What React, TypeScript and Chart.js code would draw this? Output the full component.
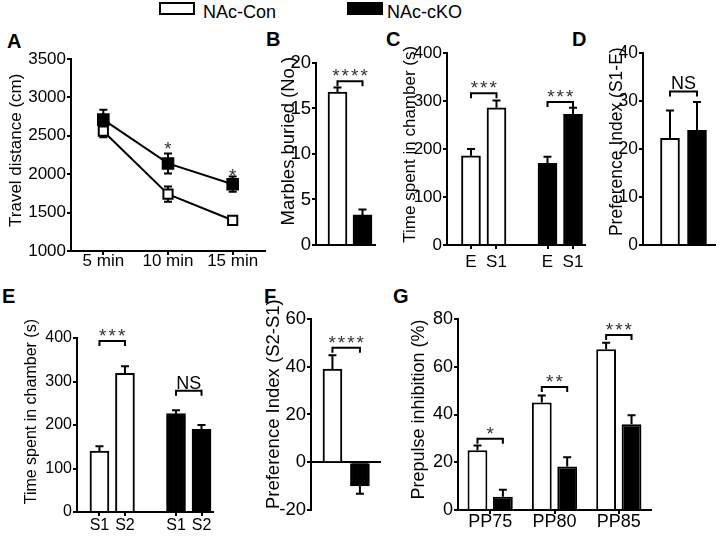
import React, { useEffect, useRef } from 'react';
import { Chart, registerables } from 'chart.js';

Chart.register(...registerables);

const FONT = "'Liberation Sans', Arial, Helvetica, sans-serif";
const BLACK = '#000000';
const WHITE = '#ffffff';
const STAR = '#333333';

// ---------- Data ----------
const groupNames = ['NAc-Con', 'NAc-cKO'];

// A: travel distance
const timeLabels = ['5 min', '10 min', '15 min'];
const travelCon = [2560, 1740, 1400];
const travelConErr = [80, 100, 50];
const travelKO = [2710, 2140, 1870];
const travelKOErr = [130, 130, 100];
const travelSig = ['', '*', '*'];
const travelSigAt = [0, 2250, 1900];

// B: marbles buried
const marbleValues = [16.8, 3.3];
const marbleErr = [0.5, 0.6];
const marbleSig = ['****'];
const marbleSigAt = [18];

// C: sociability (time in chamber)
const socLabels = ['E', 'S1', 'E', 'S1'];
const socGroup = [0, 0, 1, 1];
const socValues = [186, 286, 170, 272];
const socErr = [14, 15, 14, 14];
const socSig = ['***', '***'];
const socSigAt = [316, 298];

// D: preference index (S1-E)
const socPrefValues = [22.2, 23.9];
const socPrefErr = [5.8, 5.9];
const socPrefSig = ['NS'];
const socPrefSigAt = [32];

// E: social novelty (time in chamber)
const novLabels = ['S1', 'S2', 'S1', 'S2'];
const novGroup = [0, 0, 1, 1];
const novValues = [140, 319, 226, 190];
const novErr = [11, 16, 8, 10];
const novSig = ['***', 'NS'];
const novSigAt = [393, 279];

// F: preference index (S2-S1)
const novPrefValues = [39, -10];
const novPrefErr = [5.8, 3.2];
const novPrefSig = ['****'];
const novPrefSigAt = [48];

// G: prepulse inhibition
const ppiLabels = ['PP75', 'PP80', 'PP85'];
const ppiCon = [25, 45, 67.3];
const ppiConErr = [2, 3, 2.8];
const ppiKO = [5.6, 18.2, 35.9];
const ppiKOErr = [2.9, 3.9, 3.8];
const ppiSig = ['*', '**', '***'];
const ppiSigAt = [29.8, 51.5, 73.3];

// ---------- helpers ----------
type Ref = [number, number];
interface Mark { a: Ref; b?: Ref; at: number; text: string }
interface Box {
  left: number; top: number; width: number; height: number;
  yw: number; xh: number; padTop: number; padRight: number; padBottom: number;
  titleX: number; font: number; titleLift: number;
}

const CAP = 4;

function overlay(errs: number[][], marks: Mark[], twoSided: boolean) {
  const drawErrs = (chart: any) => {
    const ctx = chart.ctx;
    const ys = chart.scales.y;
    ctx.save();
    ctx.strokeStyle = BLACK;
    ctx.lineWidth = 2;
    errs.forEach((arr, di) => {
      const meta = chart.getDatasetMeta(di);
      const raw = chart.data.datasets[di].data;
      arr.forEach((e, i) => {
        const el = meta.data[i];
        if (!el) return;
        const d = raw[i];
        const v = typeof d === 'number' ? d : d.y;
        const s = v < 0 ? -1 : 1;
        const x = el.x;
        const yEnd = ys.getPixelForValue(v + s * e);
        const yStart = twoSided ? ys.getPixelForValue(v - s * e) : ys.getPixelForValue(v);
        ctx.beginPath();
        ctx.moveTo(x, yStart);
        ctx.lineTo(x, yEnd);
        ctx.moveTo(x - CAP, yEnd);
        ctx.lineTo(x + CAP, yEnd);
        if (twoSided) {
          ctx.moveTo(x - CAP, yStart);
          ctx.lineTo(x + CAP, yStart);
        }
        ctx.stroke();
      });
    });
    ctx.restore();
  };
  const drawMarks = (chart: any) => {
    const ctx = chart.ctx;
    const ys = chart.scales.y;
    ctx.save();
    marks.forEach((m) => {
      const pa = chart.getDatasetMeta(m.a[0]).data[m.a[1]];
      if (!pa) return;
      const y = ys.getPixelForValue(m.at);
      let cx = pa.x;
      const isStar = /^\*+$/.test(m.text);
      let base = y;
      if (m.b) {
        const pb = chart.getDatasetMeta(m.b[0]).data[m.b[1]];
        ctx.strokeStyle = BLACK;
        ctx.lineWidth = 2;
        ctx.beginPath();
        ctx.moveTo(pa.x, y + 5);
        ctx.lineTo(pa.x, y);
        ctx.lineTo(pb.x, y);
        ctx.lineTo(pb.x, y + 5);
        ctx.stroke();
        cx = (pa.x + pb.x) / 2;
        base = isStar ? y + 1 : y - 2;
      }
      ctx.textAlign = 'center';
      ctx.textBaseline = 'alphabetic';
      if (isStar) {
        ctx.font = `19px ${FONT}`;
        ctx.fillStyle = STAR;
        (ctx as any).letterSpacing = '2px';
        ctx.fillText(m.text, cx + 1, base);
        (ctx as any).letterSpacing = '0px';
      } else {
        ctx.font = `18px ${FONT}`;
        ctx.fillStyle = BLACK;
        ctx.fillText(m.text, cx, base);
      }
    });
    ctx.restore();
  };
  return {
    id: 'overlay',
    beforeDatasetsDraw: (chart: any) => { if (twoSided) drawErrs(chart); },
    afterDatasetsDraw: (chart: any) => {
      if (!twoSided) drawErrs(chart);
      drawMarks(chart);
    },
  };
}

function yAxis(box: Box, min: number, max: number, step: number, title: string) {
  return {
    type: 'linear',
    min,
    max,
    ticks: {
      stepSize: step, color: BLACK, font: { family: FONT, size: box.font }, padding: 1,
      callback: (v: any) => String(v),
    },
    grid: { display: true, drawOnChartArea: false, drawTicks: true, tickLength: 4, color: BLACK, lineWidth: 2 },
    border: { display: true, color: BLACK, width: 2 },
    title: {
      display: true,
      // leading spaces lift the centred, rotated title slightly toward the top as in the figure
      text: ' '.repeat(box.titleLift) + title,
      color: BLACK,
      font: { family: FONT, size: box.font, lineHeight: 1 },
      padding: { top: box.titleX - box.left - box.font / 2, bottom: 0 },
    },
    afterFit: (s: any) => { s.width = box.yw; },
  };
}

function xLinear(box: Box, xs: number[], labels: string[], min: number, max: number, show: boolean, pad: number) {
  return {
    type: 'linear',
    min,
    max,
    offset: false,
    afterBuildTicks: (s: any) => { s.ticks = xs.map((v) => ({ value: v })); },
    ticks: {
      display: show,
      autoSkip: false,
      maxRotation: 0,
      color: BLACK,
      font: { family: FONT, size: box.font, lineHeight: 1 },
      padding: pad,
      callback: (_v: any, i: number) => labels[i] ?? '',
    },
    grid: { display: show, drawOnChartArea: false, drawTicks: show, tickLength: 4, color: BLACK, lineWidth: 2, offset: false },
    border: { display: true, color: BLACK, width: 2 },
    afterFit: (s: any) => { s.height = box.xh; },
  };
}

function baseOptions(box: Box) {
  return {
    responsive: false,
    animation: false as const,
    events: [] as any[],
    layout: { padding: { left: 0, top: box.padTop, right: box.padRight, bottom: box.padBottom } },
    plugins: { legend: { display: false }, tooltip: { enabled: false }, title: { display: false } },
  };
}

function groupedPositions(group: number[]) {
  return group.map((g, i) => i + g);
}

function barDataset(values: number[], xs: number[], colors: string[], label: string) {
  return {
    label,
    data: values.map((v, i) => ({ x: xs[i], y: v })),
    backgroundColor: colors,
    borderColor: BLACK,
    borderWidth: 2,
    barThickness: 19,
  };
}

// ---------- boxes ----------
const boxA: Box = { left: 0, top: 29, width: 275, height: 252, yw: 71, xh: 30, padTop: 30, padRight: 10, padBottom: 0, titleX: 16, font: 17, titleLift: 2 };
const boxB: Box = { left: 276, top: 33, width: 102, height: 224, yw: 40, xh: 0, padTop: 30, padRight: 3, padBottom: 12, titleX: 289, font: 18.5, titleLift: 5 };
const boxC: Box = { left: 396, top: 23, width: 193, height: 252, yw: 51, xh: 30, padTop: 30, padRight: 4, padBottom: 0, titleX: 410, font: 17, titleLift: 2 };
const boxD: Box = { left: 600, top: 23, width: 118, height: 234, yw: 43, xh: 0, padTop: 30, padRight: 3, padBottom: 12, titleX: 617, font: 17.5, titleLift: 3 };
const boxE: Box = { left: 0, top: 294, width: 218, height: 242, yw: 77, xh: 24, padTop: 44, padRight: 5, padBottom: 0, titleX: 32, font: 16, titleLift: 6 };
const boxF: Box = { left: 258, top: 279, width: 125, height: 243, yw: 53, xh: 0, padTop: 40, padRight: 3, padBottom: 12, titleX: 274, font: 18.5, titleLift: 4 };
const boxG: Box = { left: 404, top: 279, width: 253, height: 257, yw: 54, xh: 26, padTop: 40, padRight: 6, padBottom: 0, titleX: 419, font: 18, titleLift: 2 };

// ---------- chart builders ----------
function buildA(c: HTMLCanvasElement) {
  const marks: Mark[] = [];
  travelSig.forEach((t, i) => { if (t) marks.push({ a: [1, i], at: travelSigAt[i], text: t }); });
  return new Chart(c, {
    type: 'line',
    data: {
      labels: timeLabels,
      datasets: [
        {
          label: groupNames[0], data: travelCon, borderColor: BLACK, borderWidth: 2, tension: 0,
          pointStyle: 'rect', pointRadius: 6.5, pointBackgroundColor: WHITE, pointBorderColor: BLACK, pointBorderWidth: 2, order: 2,
        },
        {
          label: groupNames[1], data: travelKO, borderColor: BLACK, borderWidth: 2, tension: 0,
          pointStyle: 'rect', pointRadius: 7.5, pointBackgroundColor: BLACK, pointBorderColor: BLACK, pointBorderWidth: 2, order: 1,
        },
      ],
    },
    options: {
      ...baseOptions(boxA),
      scales: {
        x: {
          type: 'category', offset: true,
          ticks: { color: BLACK, font: { family: FONT, size: boxA.font, lineHeight: 1 }, padding: -2, maxRotation: 0, autoSkip: false },
          grid: { drawOnChartArea: false, drawTicks: true, tickLength: 4, color: BLACK, lineWidth: 2, offset: false },
          border: { display: true, color: BLACK, width: 2 },
          afterFit: (s: any) => { s.height = boxA.xh; },
        },
        y: yAxis(boxA, 1000, 3500, 500, 'Travel distance (cm)'),
      },
    } as any,
    plugins: [overlay([travelConErr, travelKOErr], marks, true)],
  });
}

function buildTwoBar(box: Box, values: number[], errs: number[], sig: string[], sigAt: number[], ymin: number, ymax: number, step: number, title: string, xmin: number, xmax: number, zeroAxis: boolean) {
  const xs = [0, 1];
  const scalesX: any = xLinear(box, xs, [], xmin, xmax, false, 0);
  if (zeroAxis) {
    scalesX.position = { y: 0 };
    delete scalesX.afterFit;
  }
  return (c: HTMLCanvasElement) => new Chart(c, {
    type: 'bar',
    data: { datasets: [barDataset(values, xs, [WHITE, BLACK], title)] },
    options: { ...baseOptions(box), scales: { x: scalesX, y: yAxis(box, ymin, ymax, step, title) } } as any,
    plugins: [overlay([errs], sig.map((t, i) => ({ a: [0, 0] as Ref, b: [0, 1] as Ref, at: sigAt[i], text: t })), false)],
  });
}

function buildFourBar(box: Box, labels: string[], group: number[], values: number[], errs: number[], sig: string[], sigAt: number[], title: string, xmin: number, xmax: number, pad: number) {
  const xs = groupedPositions(group);
  const colors = group.map((g) => (g === 0 ? WHITE : BLACK));
  const marks: Mark[] = sig.map((t, gi) => ({ a: [0, gi * 2] as Ref, b: [0, gi * 2 + 1] as Ref, at: sigAt[gi], text: t }));
  return (c: HTMLCanvasElement) => new Chart(c, {
    type: 'bar',
    data: { datasets: [barDataset(values, xs, colors, title)] },
    options: { ...baseOptions(box), scales: { x: xLinear(box, xs, labels, xmin, xmax, true, pad), y: yAxis(box, 0, 400, 100, title) } } as any,
    plugins: [overlay([errs], marks, false)],
  });
}

function buildG(c: HTMLCanvasElement) {
  const marks: Mark[] = ppiSig.map((t, i) => ({ a: [0, i] as Ref, b: [1, i] as Ref, at: ppiSigAt[i], text: t }));
  return new Chart(c, {
    type: 'bar',
    data: {
      labels: ppiLabels,
      datasets: [
        { label: groupNames[0], data: ppiCon, backgroundColor: WHITE, borderColor: BLACK, borderWidth: 2, categoryPercentage: 0.79, barPercentage: 0.78 },
        { label: groupNames[1], data: ppiKO, backgroundColor: BLACK, borderColor: BLACK, borderWidth: 2, categoryPercentage: 0.79, barPercentage: 0.78 },
      ],
    },
    options: {
      ...baseOptions(boxG),
      scales: {
        x: {
          type: 'category', offset: true,
          ticks: { color: BLACK, font: { family: FONT, size: boxG.font, lineHeight: 1 }, padding: -1, maxRotation: 0, autoSkip: false },
          grid: { drawOnChartArea: false, drawTicks: true, tickLength: 4, color: BLACK, lineWidth: 2, offset: false },
          border: { display: true, color: BLACK, width: 2 },
          afterFit: (s: any) => { s.height = boxG.xh; },
        },
        y: yAxis(boxG, 0, 80, 20, 'Prepulse inhibition (%)'),
      },
    } as any,
    plugins: [overlay([ppiConErr, ppiKOErr], marks, false)],
  });
}

const buildB = buildTwoBar(boxB, marbleValues, marbleErr, marbleSig, marbleSigAt, 0, 20, 5, 'Marbles buried (No.)', -0.86, 1.5, false);
const buildC = buildFourBar(boxC, socLabels, socGroup, socValues, socErr, socSig, socSigAt, 'Time spent in chamber (s)', -0.94, 4.47, 5);
const buildD = buildTwoBar(boxD, socPrefValues, socPrefErr, socPrefSig, socPrefSigAt, 0, 40, 10, 'Preference Index (S1-E)', -1.0, 1.667, false);
const buildE = buildFourBar(boxE, novLabels, novGroup, novValues, novErr, novSig, novSigAt, 'Time spent in chamber (s)', -0.88, 4.45, 2);
const buildF = buildTwoBar(boxF, novPrefValues, novPrefErr, novPrefSig, novPrefSigAt, -20, 60, 20, 'Preference Index (S2-S1)', -0.78, 1.73, true);

function Panel({ box, build }: { box: Box; build: (c: HTMLCanvasElement) => Chart }) {
  const ref = useRef<HTMLCanvasElement>(null);
  useEffect(() => {
    const chart = build(ref.current as HTMLCanvasElement);
    return () => chart.destroy();
  }, []);
  return (
    <canvas
      ref={ref}
      width={box.width}
      height={box.height}
      style={{ position: 'absolute', left: box.left, top: box.top, width: box.width, height: box.height }}
    />
  );
}

const panelLetters: { t: string; x: number; y: number }[] = [
  { t: 'A', x: 7, y: 31 },
  { t: 'B', x: 266, y: 29 },
  { t: 'C', x: 386, y: 29 },
  { t: 'D', x: 572, y: 29 },
  { t: 'E', x: 2, y: 286 },
  { t: 'F', x: 264, y: 286 },
  { t: 'G', x: 393, y: 286 },
];

export default function App() {
  return (
    <div style={{ position: 'absolute', left: 0, top: 0, width: 720, height: 536, background: WHITE, overflow: 'hidden', fontFamily: FONT }}>
      {/* legend */}
      <div style={{ position: 'absolute', left: 159, top: 2, width: 36, height: 13, border: '2px solid #000', boxSizing: 'border-box', background: WHITE }} />
      <div style={{ position: 'absolute', left: 203, top: 3, fontSize: 18, lineHeight: '18px', color: BLACK, whiteSpace: 'nowrap' }}>{groupNames[0]}</div>
      <div style={{ position: 'absolute', left: 347, top: 2, width: 36, height: 13, background: BLACK }} />
      <div style={{ position: 'absolute', left: 387, top: 3, fontSize: 18, lineHeight: '18px', color: BLACK, whiteSpace: 'nowrap' }}>{groupNames[1]}</div>
      {panelLetters.map((p) => (
        <div key={p.t} style={{ position: 'absolute', left: p.x, top: p.y, fontSize: 20, lineHeight: '20px', fontWeight: 'bold', color: BLACK }}>{p.t}</div>
      ))}
      <Panel box={boxA} build={buildA} />
      <Panel box={boxB} build={buildB} />
      <Panel box={boxC} build={buildC} />
      <Panel box={boxD} build={buildD} />
      <Panel box={boxE} build={buildE} />
      <Panel box={boxF} build={buildF} />
      <Panel box={boxG} build={buildG} />
    </div>
  );
}
